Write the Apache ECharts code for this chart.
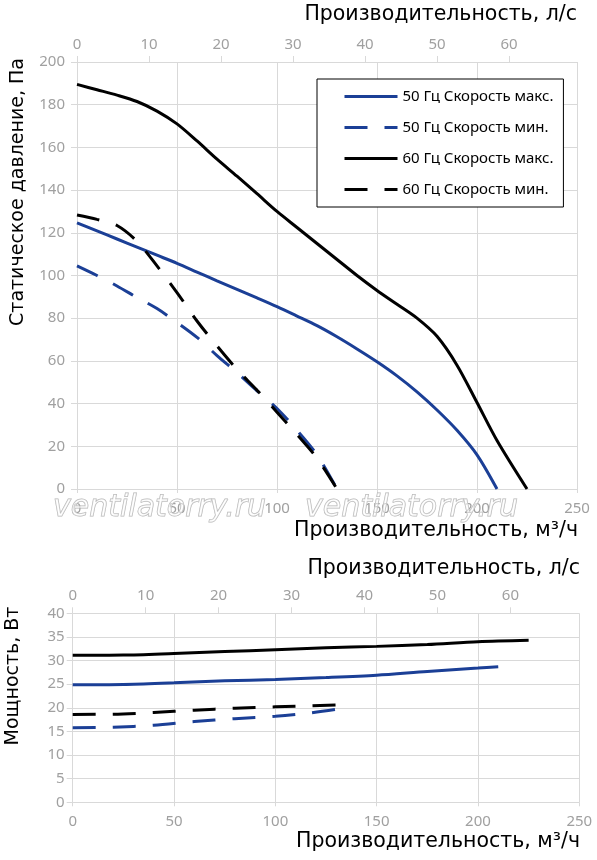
<!DOCTYPE html>
<html>
<head>
<meta charset="utf-8">
<script src="https://cdn.jsdelivr.net/npm/echarts@6/dist/echarts.min.js"></script>
<style>
html, body {margin: 0; padding: 0; background: #fff;}
#main {width: 597px; height: 860px;}
</style>
</head>
<body>
<div id="main"></div>
<script>
var myChart = echarts.init(document.getElementById('main'));

var names = ['50 Гц Скорость макс.', '50 Гц Скорость мин.', '60 Гц Скорость макс.', '60 Гц Скорость мин.'];

// статическое давление, Па (расход в м3/ч)
var q50max = [0, 10, 20, 30, 40, 50, 60, 70, 80, 90, 100, 110, 120, 130, 140, 150, 160, 170, 180, 190, 200, 210];
var p50max = [124.7, 120.9, 117.1, 113.3, 109.5, 105.7, 101.6, 97.5, 93.5, 89.5, 85.4, 81, 76.5, 71.3, 65.6, 59.6, 53, 45.5, 37, 27.5, 16, 0];
var q50min = [0, 10, 20, 30, 40, 50, 60, 70, 80, 90, 100, 110, 120, 130];
var p50min = [104.5, 100, 95.1, 89.7, 84.5, 78, 71, 62.5, 54.5, 46, 37.7, 27.5, 16, 0];
var q60max = [0, 10, 20, 30, 40, 50, 60, 70, 80, 90, 100, 110, 120, 130, 140, 150, 160, 170, 180, 190, 200, 210, 225];
var p60max = [189.5, 187, 184.5, 181.5, 177, 171, 163, 154.5, 146.5, 138.3, 130, 122.5, 115, 107.5, 100, 93, 86.5, 80, 71.5, 58, 40.5, 22.7, 0];
var q60min = [0, 10, 20, 30, 40, 50, 60, 70, 80, 90, 100, 110, 120, 130];
var p60min = [128.3, 126.3, 123.4, 116, 104.5, 92, 78.7, 67, 56, 46.3, 36, 25.5, 14.4, 0];

// мощность, Вт
var wq50max = [0, 25, 50, 75, 100, 125, 150, 175, 200, 210];
var w50max = [24.9, 24.95, 25.3, 25.7, 26.0, 26.4, 26.9, 27.7, 28.4, 28.7];
var wq50min = [0, 20, 40, 60, 80, 100, 115, 130];
var w50min = [15.8, 15.9, 16.3, 17.1, 17.7, 18.2, 18.8, 19.7];
var wq60max = [0, 25, 50, 75, 100, 125, 150, 175, 200, 225];
var w60max = [31.1, 31.15, 31.5, 31.9, 32.3, 32.7, 33.0, 33.4, 34.0, 34.3];
var wq60min = [0, 20, 40, 60, 80, 100, 130];
var w60min = [18.6, 18.65, 19.0, 19.5, 19.9, 20.2, 20.6];

var qTicks = 50;      // шаг, м3/ч
var lsTicks = 10;     // шаг, л/с
var qMax = 250;

var blue = '#1b3f96';
var black = '#000000';
var gridColor = '#d9d9d9';
var labelColor = '#a0a0a0';
var font = 'Noto Sans';
var dash = [23, 17];

function zip(a, b) {
	var res = [];
	for (var i = 0; i < a.length; i++) {
		res.push([a[i], b[i]]);
	}
	return res;
}

function line(name, data, color, dashed, xi, yi) {
	return {
		name: name, type: 'line', data: data,
		xAxisIndex: xi, yAxisIndex: yi,
		symbol: 'none', smooth: 0.3, silent: true,
		lineStyle: {color: color, width: 3, type: dashed ? dash : 'solid', cap: 'butt'},
		itemStyle: {color: color}
	};
}

function qAxis(grid, pos, margin) {
	return {
		type: 'value', gridIndex: grid, position: pos,
		min: 0, max: qMax, interval: qTicks,
		axisLine: {show: false},
		axisTick: {show: true, length: 4, lineStyle: {color: gridColor}},
		splitLine: {show: true, lineStyle: {color: gridColor, width: 1}},
		axisLabel: {color: labelColor, fontSize: 15, fontFamily: font, margin: margin}
	};
}

function lsAxis(grid, margin) {
	return {
		type: 'value', gridIndex: grid, position: 'top',
		min: 0, max: qMax / 3.6, interval: lsTicks,
		axisLine: {show: false},
		axisTick: {show: true, length: 6, lineStyle: {color: gridColor}},
		splitLine: {show: false},
		axisLabel: {color: labelColor, fontSize: 15, fontFamily: font, margin: margin, showMaxLabel: false}
	};
}

function valAxis(grid, max, step, margin) {
	return {
		type: 'value', gridIndex: grid,
		min: 0, max: max, interval: step,
		axisLine: {show: false},
		axisTick: {show: true, length: 6, lineStyle: {color: gridColor}},
		splitLine: {show: true, lineStyle: {color: gridColor, width: 1}},
		axisLabel: {color: labelColor, fontSize: 15, fontFamily: font, margin: margin}
	};
}

function title(text, x, y, align, rot, size) {
	return {
		type: 'text', x: x, y: y, rotation: rot || 0, silent: true,
		style: {text: text, fill: '#000', font: size + 'px "DejaVu Sans"', align: align, verticalAlign: 'middle'}
	};
}

function mark(x) {
	return {
		type: 'text', x: x, y: 508, silent: true, z: 100,
		style: {text: 'ventilatorry.ru', fill: 'rgba(255,255,255,0.5)', stroke: '#b4b4b4', lineWidth: 1,
			font: 'italic 30px "DejaVu Sans"', align: 'left', verticalAlign: 'middle'}
	};
}

var legendData = [];
for (var k = 0; k < names.length; k++) {
	legendData.push({name: names[k]});
}

option = {
	backgroundColor: '#fff',
	animation: false,
	grid: [
		{left: 77, top: 62, width: 500, height: 427},
		{left: 72.7, top: 613.3, width: 506.6, height: 189}
	],
	legend: {
		data: legendData, orient: 'vertical',
		left: 317, top: 79,
		padding: [10, 10, 10, 26],
		itemWidth: 53, itemHeight: 14, itemGap: 16,
		borderColor: '#000', borderWidth: 1, backgroundColor: '#fff',
		textStyle: {color: '#000', fontSize: 15, fontFamily: font},
		itemStyle: {opacity: 0},
		lineStyle: {width: 3}
	},
	xAxis: [qAxis(0, 'bottom', 12), lsAxis(0, 10), qAxis(1, 'bottom', 12), lsAxis(1, 10)],
	yAxis: [valAxis(0, 200, 20, 12), valAxis(1, 40, 5, 8)],
	series: [
		line(names[0], zip(q50max, p50max), blue, false, 0, 0),
		line(names[1], zip(q50min, p50min), blue, true, 0, 0),
		line(names[2], zip(q60max, p60max), black, false, 0, 0),
		line(names[3], zip(q60min, p60min), black, true, 0, 0),
		line(names[0], zip(wq50max, w50max), blue, false, 2, 1),
		line(names[1], zip(wq50min, w50min), blue, true, 2, 1),
		line(names[2], zip(wq60max, w60max), black, false, 2, 1),
		line(names[3], zip(wq60min, w60min), black, true, 2, 1)
	],
	graphic: [
		title('Производительность, л/с', 577, 15, 'right', 0, 20.5),
		title('Производительность, м³/ч', 578, 531, 'right', 0, 20.5),
		title('Статическое давление, Па', 18, 192, 'center', Math.PI / 2, 19),
		title('Производительность, л/с', 580, 569, 'right', 0, 20.5),
		title('Производительность, м³/ч', 580, 842, 'right', 0, 20.5),
		title('Мощность, Вт', 13, 676, 'center', Math.PI / 2, 19),
		mark(53),
		mark(305)
	]
};
myChart.setOption(option);
</script>
</body>
</html>
